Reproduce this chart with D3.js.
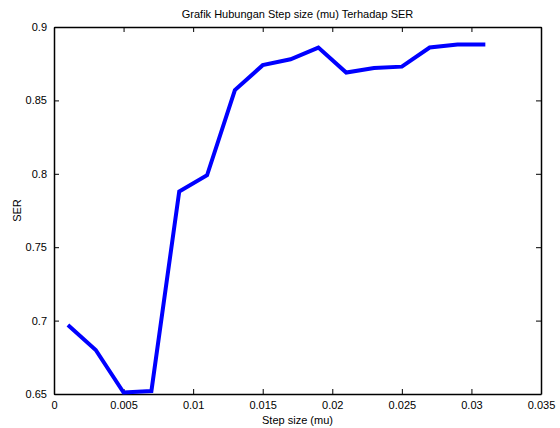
<!DOCTYPE html>
<html lang="en">
<head>
    <meta charset="UTF-8">
    <title>Grafik Hubungan Step size (mu) Terhadap SER</title>
    <script src="https://d3js.org/d3.v7.min.js"></script>
    <style>
        body { margin: 0; background: #fff; }
        text { font-family: "Liberation Sans", Arial, sans-serif; font-size: 11px; fill: #000; }
    </style>
</head>
<body>
    <div id="chart"></div>

    <script>
        // data
        const stepSize = [0.001, 0.003, 0.005, 0.007, 0.009, 0.011, 0.013, 0.015,
                          0.017, 0.019, 0.021, 0.023, 0.025, 0.027, 0.029, 0.031];
        const ser = [0.697, 0.680, 0.651, 0.652, 0.788, 0.799, 0.857, 0.874,
                     0.878, 0.886, 0.869, 0.872, 0.873, 0.886, 0.888, 0.888];
        const xTicks = [0, 0.005, 0.01, 0.015, 0.02, 0.025, 0.03, 0.035];
        const yTicks = [0.65, 0.7, 0.75, 0.8, 0.85, 0.9];

        const width = 560;
        const height = 428;
        const margin = { top: 27, right: 19, bottom: 34, left: 54 };

        const svg = d3.select("#chart")
            .append("svg")
            .attr("width", width)
            .attr("height", height);

        const x = d3.scaleLinear()
            .domain([0, 0.035])
            .range([margin.left, width - margin.right]);

        const y = d3.scaleLinear()
            .domain([0.65, 0.9])
            .range([height - margin.bottom, margin.top]);

        const fmt = d => String(+d.toFixed(3));

        // axes, matlab style: ticks inside, on all four sides
        svg.append("g")
            .attr("transform", `translate(0,${y(0.65)})`)
            .call(d3.axisBottom(x).tickValues(xTicks).tickFormat(fmt).tickSizeInner(-5).tickSizeOuter(0).tickPadding(7));

        svg.append("g")
            .attr("transform", `translate(0,${y(0.9)})`)
            .call(d3.axisTop(x).tickValues(xTicks).tickFormat("").tickSizeInner(-5).tickSizeOuter(0));

        svg.append("g")
            .attr("transform", `translate(${x(0)},0)`)
            .call(d3.axisLeft(y).tickValues(yTicks).tickFormat(fmt).tickSizeInner(-5).tickSizeOuter(0).tickPadding(7));

        svg.append("g")
            .attr("transform", `translate(${x(0.035)},0)`)
            .call(d3.axisRight(y).tickValues(yTicks).tickFormat("").tickSizeInner(-5).tickSizeOuter(0));

        svg.selectAll(".domain").attr("stroke", "#000").attr("stroke-width", 1.5);
        svg.selectAll(".tick line").attr("stroke", "#000");
        svg.selectAll(".tick text").style("font-size", "11px").style("font-family", "'Liberation Sans', Arial, sans-serif");

        // line
        const line = d3.line()
            .x((d, i) => x(stepSize[i]))
            .y(d => y(d));

        svg.append("path")
            .datum(ser)
            .attr("fill", "none")
            .attr("stroke", "#0000ff")
            .attr("stroke-width", 4)
            .attr("stroke-linejoin", "miter")
            .attr("d", line);

        // labels
        svg.append("text")
            .attr("x", (x(0) + x(0.035)) / 2)
            .attr("y", 18)
            .attr("text-anchor", "middle")
            .text("Grafik Hubungan Step size (mu) Terhadap SER");

        svg.append("text")
            .attr("x", (x(0) + x(0.035)) / 2)
            .attr("y", 424)
            .attr("text-anchor", "middle")
            .text("Step size (mu)");

        svg.append("text")
            .attr("transform", `translate(21,${(y(0.65) + y(0.9)) / 2}) rotate(-90)`)
            .attr("text-anchor", "middle")
            .text("SER");
    </script>
</body>
</html>
